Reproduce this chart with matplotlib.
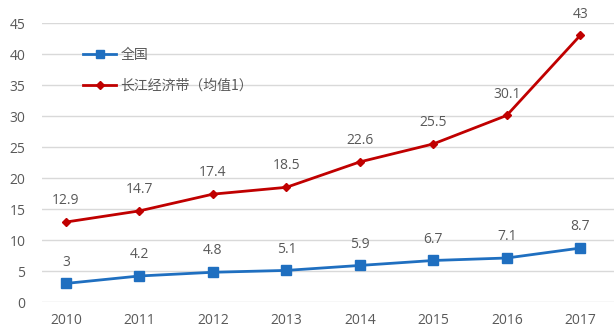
import matplotlib
matplotlib.use("Agg")
import matplotlib.pyplot as plt

years = ["2010", "2011", "2012", "2013", "2014", "2015", "2016", "2017"]
national = [3, 4.2, 4.8, 5.1, 5.9, 6.7, 7.1, 8.7]
yangtze = [12.9, 14.7, 17.4, 18.5, 22.6, 25.5, 30.1, 43]
series_names = ["全国", "长江经济带（均值1）"]
yticks = [0, 5, 10, 15, 20, 25, 30, 35, 40, 45]

plt.rcParams['font.family'] = ['Noto Sans CJK SC', 'DejaVu Sans']
grey = "#595959"

fig = plt.figure(figsize=(6.14, 3.29), dpi=100)
ax = fig.add_axes([0.0684, 0.082, 0.9316, 0.848])
x = list(range(len(years)))

ax.plot(x, national, color="#1F6FC0", lw=2.0, marker="s", ms=7, label=series_names[0], zorder=3)
ax.plot(x, yangtze, color="#C00000", lw=2.0, marker="D", ms=4.5, label=series_names[1], zorder=3)

for xi, v in zip(x, national):
    ax.annotate(f"{v:g}", (xi, v), xytext=(0, 10), textcoords="offset points",
                ha="center", va="bottom", fontsize=10, color=grey, family="Open Sans")
for xi, v in zip(x, yangtze):
    ax.annotate(f"{v:g}", (xi, v), xytext=(0, 10), textcoords="offset points",
                ha="center", va="bottom", fontsize=10, color=grey, family="Open Sans",
                annotation_clip=False)

ax.set_xlim(-0.327, 7.46)
ax.set_ylim(0, 45)
ax.set_yticks(yticks)
ax.set_xticks(x)
ax.set_xticklabels(years)
ax.grid(axis="y", color="#D9D9D9", lw=1)
ax.set_axisbelow(True)
for s in ax.spines.values():
    s.set_visible(False)
ax.tick_params(length=0, colors=grey, labelsize=10, pad=12)
for lbl in ax.get_xticklabels() + ax.get_yticklabels():
    lbl.set_family("Open Sans")
ax.tick_params(axis="x", pad=8)

leg = ax.legend(loc="upper left", bbox_to_anchor=(0.05, 0.955), frameon=False,
                handlelength=2.4, labelspacing=1.2, handletextpad=0.3, fontsize=10,
                markerscale=0.8)
for t in leg.get_texts():
    t.set_color(grey)

fig.savefig("out.png", dpi=100)
